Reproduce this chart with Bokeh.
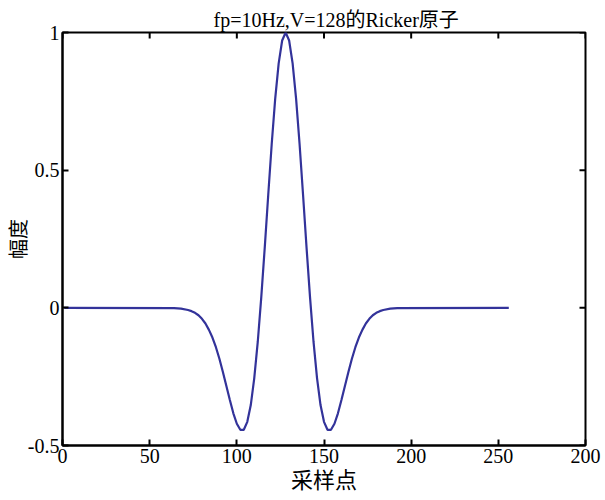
import math
from bokeh.plotting import figure
from bokeh.models import LinearAxis, FixedTicker, Range1d
from bokeh.embed import file_html
from bokeh.resources import INLINE

# sample index and amplitude
samples = [1, 64, 68, 72, 74, 76, 78, 80, 82, 84, 86, 88, 90, 92, 94, 96, 98,
           100, 102, 104, 106, 108, 110, 112, 114, 116, 118, 120, 122, 124, 126,
           128,
           130, 132, 134, 136, 138, 140, 142, 144, 146, 148, 150, 152, 154, 156,
           158, 160, 162, 164, 166, 168, 170, 172, 174, 176, 178, 180, 182, 184,
           188, 192, 256]
amplitude = [0.0, -0.001, -0.003, -0.008, -0.012, -0.018, -0.027, -0.040, -0.057,
             -0.080, -0.108, -0.143, -0.185, -0.233, -0.284, -0.335, -0.383,
             -0.421, -0.443, -0.443, -0.414, -0.353, -0.255, -0.124, 0.037, 0.218,
             0.409, 0.594, 0.759, 0.888, 0.971,
             1.0,
             0.971, 0.888, 0.759, 0.594, 0.409, 0.218, 0.037, -0.124, -0.255,
             -0.353, -0.414, -0.443, -0.443, -0.421, -0.383, -0.335, -0.284,
             -0.233, -0.185, -0.143, -0.108, -0.080, -0.057, -0.040, -0.027,
             -0.018, -0.012, -0.008, -0.003, -0.001, 0.0]

x_ticks = [0, 50, 100, 150, 200, 250, 300]
x_tick_labels = ["0", "50", "100", "150", "200", "250", "200"]
y_ticks = [-0.5, 0, 0.5, 1]
y_tick_labels = ["-0.5", "0", "0.5", "1"]

title_text = "fp=10Hz,V=128的Ricker原子"
x_label = "采样点"
y_label = "幅度"

FONT = "'Liberation Serif', 'Times New Roman', 'Noto Sans CJK SC', serif"

x_min, x_max = x_ticks[0], x_ticks[-1]
y_min, y_max = y_ticks[0], y_ticks[-1]

p = figure(width=603, height=499, output_backend="svg", toolbar_location=None,
           title=title_text,
           x_range=Range1d(x_min, x_max), y_range=Range1d(y_min, y_max),
           x_axis_location=None, y_axis_location=None,
           min_border_left=62, min_border_right=18, min_border_top=32,
           min_border_bottom=54)
p.background_fill_color = "white"
p.border_fill_color = "white"
p.outline_line_color = "black"
p.outline_line_width = 2
p.xgrid.visible = False
p.ygrid.visible = False

p.title.align = "left"
p.title.offset = 151
p.title.standoff = 0
p.title.vertical_align = "top"
p.title.text_font = FONT
p.title.text_font_size = "20px"
p.title.text_font_style = "normal"
p.title.text_color = "black"

def style(ax):
    ax.axis_line_color = "black"
    ax.axis_line_width = 2
    ax.major_tick_in = 6
    ax.major_tick_out = 0
    ax.major_tick_line_width = 2
    ax.minor_tick_line_color = None
    ax.major_label_text_font = FONT
    ax.major_label_text_font_size = "20px"
    ax.major_label_text_color = "black"
    ax.major_label_standoff = 3
    ax.axis_label_text_font = FONT
    ax.axis_label_text_font_style = "normal"
    ax.axis_label_text_color = "black"

xb = LinearAxis(ticker=FixedTicker(ticks=x_ticks),
                major_label_overrides={t: l for t, l in zip(x_ticks, x_tick_labels)},
                axis_label=x_label)
style(xb)
xb.axis_label_text_font_size = "22px"
xb.axis_label_standoff = 2
p.add_layout(xb, "below")

yl = LinearAxis(ticker=FixedTicker(ticks=y_ticks),
                major_label_overrides={t: l for t, l in zip(y_ticks, y_tick_labels)},
                axis_label=y_label)
style(yl)
yl.axis_label_text_font_size = "20px"
yl.axis_label_standoff = -5
p.add_layout(yl, "left")

# empty spacer axis above the frame: lifts the title a little
spacer = LinearAxis(ticker=FixedTicker(ticks=[]), axis_line_color=None,
                    major_tick_out=8, major_tick_in=0, minor_tick_line_color=None,
                    major_label_standoff=0)
p.add_layout(spacer, "above")

# inward ticks on the top and right sides of the box (half of each dash is clipped)
p.scatter(x=x_ticks, y=[y_max] * len(x_ticks), marker="dash", angle=math.pi / 2,
          size=12, line_color="black", line_width=2)
p.scatter(x=[x_max] * len(y_ticks), y=y_ticks, marker="dash",
          size=12, line_color="black", line_width=2)

p.line(samples, amplitude, line_color="#33339a", line_width=2.2)

open("out.html", "w").write(file_html(p, INLINE))
